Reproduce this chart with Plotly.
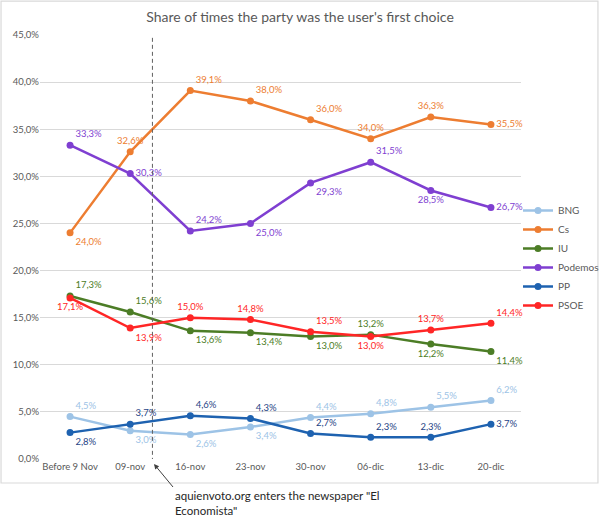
import plotly.graph_objects as go

categories = ["Before 9 Nov", "09-nov", "16-nov", "23-nov", "30-nov", "06-dic", "13-dic", "20-dic"]
bng = [4.5, 3.0, 2.6, 3.4, 4.4, 4.8, 5.5, 6.2]
cs = [24.0, 32.6, 39.1, 38.0, 36.0, 34.0, 36.3, 35.5]
iu = [17.3, 15.6, 13.6, 13.4, 13.0, 13.2, 12.2, 11.4]
podemos = [33.3, 30.3, 24.2, 25.0, 29.3, 31.5, 28.5, 26.7]
pp = [2.8, 3.7, 4.6, 4.3, 2.7, 2.3, 2.3, 3.7]
psoe = [17.1, 13.9, 15.0, 14.8, 13.5, 13.0, 13.7, 14.4]
ytick_vals = [0, 5, 10, 15, 20, 25, 30, 35, 40, 45]
ytick_text = ["0,0%", "5,0%", "10,0%", "15,0%", "20,0%", "25,0%", "30,0%", "35,0%", "40,0%", "45,0%"]

TR, TC, BR, BC, MR, BL = "top right", "top center", "bottom right", "bottom center", "middle right", "bottom left"

series = [
    ("BNG", bng, "#9DC3E6", "#9DC3E6", [TR, BR, BR, BR, TR, TR, TR, TR]),
    ("Cs", cs, "#ED7D31", "#ED7D31", [BR, TC, TR, TR, TR, TC, TC, MR]),
    ("IU", iu, "#4C7D26", "#4C7D26", [TR, TR, BR, BR, BR, TC, BC, BR]),
    ("Podemos", podemos, "#7F3FD1", "#7F3FD1", [TR, MR, TR, BR, BR, TR, BC, MR]),
    ("PP", pp, "#1E62B0", "#1F4486", [BR, TR, TR, TR, TR, TR, TC, MR]),
    ("PSOE", psoe, "#FF2626", "#FF2626", [BC, BR, TC, TC, TR, BC, TC, TR]),
]

fig = go.Figure()
for name, vals, color, tcolor, pos in series:
    fig.add_trace(go.Scatter(
        x=categories, y=vals, name=name, mode="lines+markers+text",
        line=dict(color=color, width=2.5), marker=dict(size=7, color=color),
        text=[f"{v:.1f}%".replace(".", ",") for v in vals],
        textposition=pos, textfont=dict(size=9.5, color=tcolor, family="Lato"),
        cliponaxis=False,
    ))

fig.add_shape(type="line", xref="x", yref="y", x0=1.37, x1=1.37, y0=-0.3, y1=44.8,
              line=dict(color="#606060", width=1, dash="4px,3px"))
fig.add_shape(type="rect", xref="paper", yref="paper", x0=-0.081, x1=1.160, y0=-0.0566, y1=1.080,
              line=dict(color="#D9D9D9", width=1.2), layer="below")

fig.add_annotation(x=(154 - 40) / 481, y=(459 - 464) / 424, xref="paper", yref="paper",
                   text="aquienvoto.org enters the newspaper \"El<br>Economista\"",
                   showarrow=True, ax=19, ay=23,
                   xanchor="left", yanchor="top", align="left",
                   arrowhead=2, arrowsize=1, arrowwidth=1, arrowcolor="#404040",
                   font=dict(size=11.5, color="#262626", family="Lato"))

fig.update_layout(
    width=600, height=527, paper_bgcolor="white", plot_bgcolor="white",
    margin=dict(l=40, r=79, t=35, b=68, autoexpand=False),
    font=dict(family="Lato", color="#595959"),
    title=dict(text="Share of times the party was the user's first choice",
               x=0.5, xanchor="center", y=1 - 17 / 527, yanchor="middle",
               font=dict(size=14, color="#595959", family="Lato")),
    legend=dict(x=(518 - 40) / 481, xanchor="left", y=(459 - 196) / 424, yanchor="top",
                font=dict(size=10, color="#595959"), itemwidth=30, tracegroupgap=0,
                bgcolor="rgba(0,0,0,0)"),
    showlegend=True,
)
fig.update_xaxes(type="category", range=[-0.5, 7.5], showgrid=False, showline=False,
                 ticks="", tickfont=dict(size=9.5, color="#595959"), zeroline=False)
fig.update_yaxes(range=[0, 45], tickvals=ytick_vals, ticktext=ytick_text,
                 showgrid=True, gridcolor="#D9D9D9", gridwidth=1, zeroline=False,
                 showline=False, ticks="", tickfont=dict(size=9.5, color="#595959"))

fig.write_html("out.html", config={"displayModeBar": False},
               post_script="document.body.style.margin='0';document.body.style.overflow='hidden';")
